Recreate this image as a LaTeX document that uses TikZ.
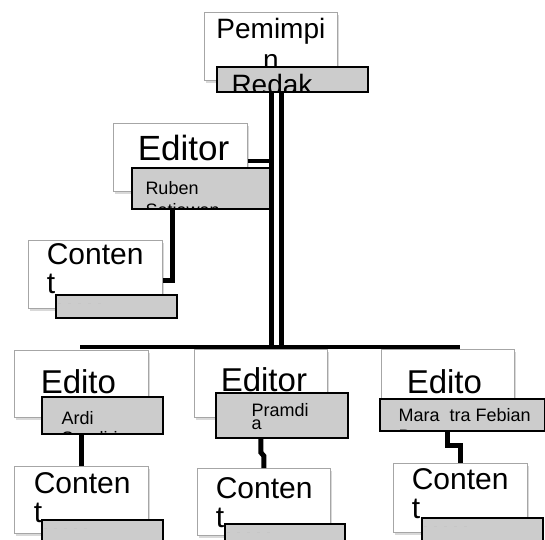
\documentclass[tikz,border=0pt]{standalone}
\usepackage{fontspec}
\setmainfont{Liberation Sans}
\usetikzlibrary{shadows}

\tikzset{
  card/.style={draw=gray!70, line width=0.8pt, fill=white, anchor=north west, inner sep=0pt,
    drop shadow={shadow xshift=2pt, shadow yshift=-2.5pt, opacity=0.3}},
  tag/.style={draw=black, line width=1.5pt, fill=gray!40, anchor=north west, inner sep=0pt},
  link/.style={line width=5pt},
  bus/.style={line width=4pt},
  words/.style n args={4}{path picture={\node[inner sep=0pt, minimum width=0pt, minimum height=0pt,
      anchor=north west, align=left, #1]
      at ([xshift=#2, yshift=-#3]path picture bounding box.north west) {#4};}},
  ghost/.style={draw=gray!45, line width=0.6pt, dash pattern=on 3pt off 7pt},
}
\newcommand\headfont{\fontsize{33}{36}\selectfont}
\newcommand\bodyfont{\fontsize{30}{29}\selectfont}

\begin{document}
\begin{tikzpicture}[x=1pt, y=-1pt]
    \useasboundingbox (0,0) rectangle (545,539);
    \clip (0,0) rectangle (545,539);

    % top
    \node[card, minimum width=133pt, minimum height=68pt,
        words={font=\fontsize{28}{31}\selectfont, align=center, anchor=north}{66.5pt}{5pt}{Pemimpi\\n}]
        (boss) at (204,12) {};
    \node[tag, minimum width=151pt, minimum height=25pt,
        words={font=\fontsize{28}{31}\selectfont}{14pt}{7pt}{Redak\\si}]
        (bosstag) at (216,66) {};

    % middle branch
    \node[card, minimum width=134pt, minimum height=68pt,
        words={font=\fontsize{35}{38}\selectfont}{24pt}{11pt}{Editor}] (ruben) at (113,123) {};
    \node[tag, minimum width=138pt, minimum height=41pt,
        words={font=\fontsize{18}{22}\selectfont}{13pt}{13pt}{Ruben\\Setiawan}]
        (rubentag) at (131,167) {};
    \node[card, minimum width=134pt, minimum height=68pt,
        words={font=\bodyfont}{18pt}{3pt}{Conten\\t}] (rubenc) at (28,240) {};
    \node[tag, minimum width=121pt, minimum height=23pt] (rubenctag) at (55,294) {};

    % bottom row
    \node[card, minimum width=134pt, minimum height=67pt,
        words={font=\headfont}{26pt}{19pt}{Edito}] (ardi) at (14,350) {};
    \node[tag, minimum width=121pt, minimum height=37pt,
        words={font=\fontsize{18}{20}\selectfont}{19pt}{14pt}{Ardi\\Saadiria}]
        (arditag) at (41,396) {};
    \node[card, minimum width=134pt, minimum height=67pt,
        words={font=\bodyfont}{19pt}{6pt}{Conten\\t}] (ardic) at (14,466) {};
    \node[tag, minimum width=121pt, minimum height=30pt] (ardictag) at (41,519) {};

    \node[card, minimum width=133pt, minimum height=68pt,
        words={font=\headfont}{26pt}{18pt}{Editor}] (pram) at (194,349) {};
    \node[tag, minimum width=132pt, minimum height=45pt,
        words={font=\fontsize{18}{13}\selectfont}{35pt}{10pt}{Pramdi\\a}]
        (pramtag) at (215,392) {};
    \node[card, minimum width=133pt, minimum height=67pt,
        words={font=\bodyfont}{18pt}{9pt}{Conten\\t}] (pramc) at (197,468) {};
    \node[tag, minimum width=120pt, minimum height=30pt] (pramctag) at (224,523) {};

    \node[card, minimum width=133pt, minimum height=68pt,
        words={font=\headfont}{25pt}{20pt}{Edito}] (mara) at (381,349) {};
    \node[tag, minimum width=165pt, minimum height=32pt,
        words={font=\fontsize{18}{21}\selectfont}{18pt}{9pt}{Mara\hspace{10pt}tra Febian\\P}]
        (maratag) at (379,398) {};
    \node[card, minimum width=134pt, minimum height=69pt,
        words={font=\bodyfont}{18pt}{5pt}{Conten\\t}] (marac) at (393,463) {};
    \node[tag, minimum width=121pt, minimum height=30pt] (maractag) at (421,517) {};

    % faint marks in the empty tags
    \draw[ghost] ([xshift=3pt, yshift=-9pt]rubenctag.north west) -- ++(44,0);
    \draw[ghost] ([xshift=3pt, yshift=-9pt]ardictag.north west) -- ++(44,0);
    \draw[ghost] ([xshift=3pt, yshift=-9pt]pramctag.north west) -- ++(44,0);
    \draw[ghost] ([xshift=3pt, yshift=-9pt]maractag.north west) -- ++(44,0);

    % connectors
    \coordinate (tA) at (271,161);
    \coordinate (tB) at (281,161);
    \coordinate (busL) at (80,347);
    \coordinate (busR) at (460,347);
    \coordinate (kA) at (172,280);

    \draw[bus] (busL) -- (busR);
    \draw[link] (bosstag.south -| tA) -- (busL -| tA);
    \draw[link] (bosstag.south -| tB) -- (busL -| tB);
    \draw[bus] (tA -| ruben.east) -- (tA);
    \draw[link] (kA |- rubentag.south) -- (kA) -- (kA -| rubenc.east);
    \draw[link] (arditag.south -| ardi.south) -- (ardic.north -| ardi.south);
    \draw[link] (pramtag.south -| pram.south) -- ++(0,14) -- ([yshift=12pt]pramc.north) -- (pramc.north);
    \draw[link] (maratag.south -| mara.south) |- ([yshift=18pt]marac.north) -- (marac.north);
\end{tikzpicture}
\end{document}
